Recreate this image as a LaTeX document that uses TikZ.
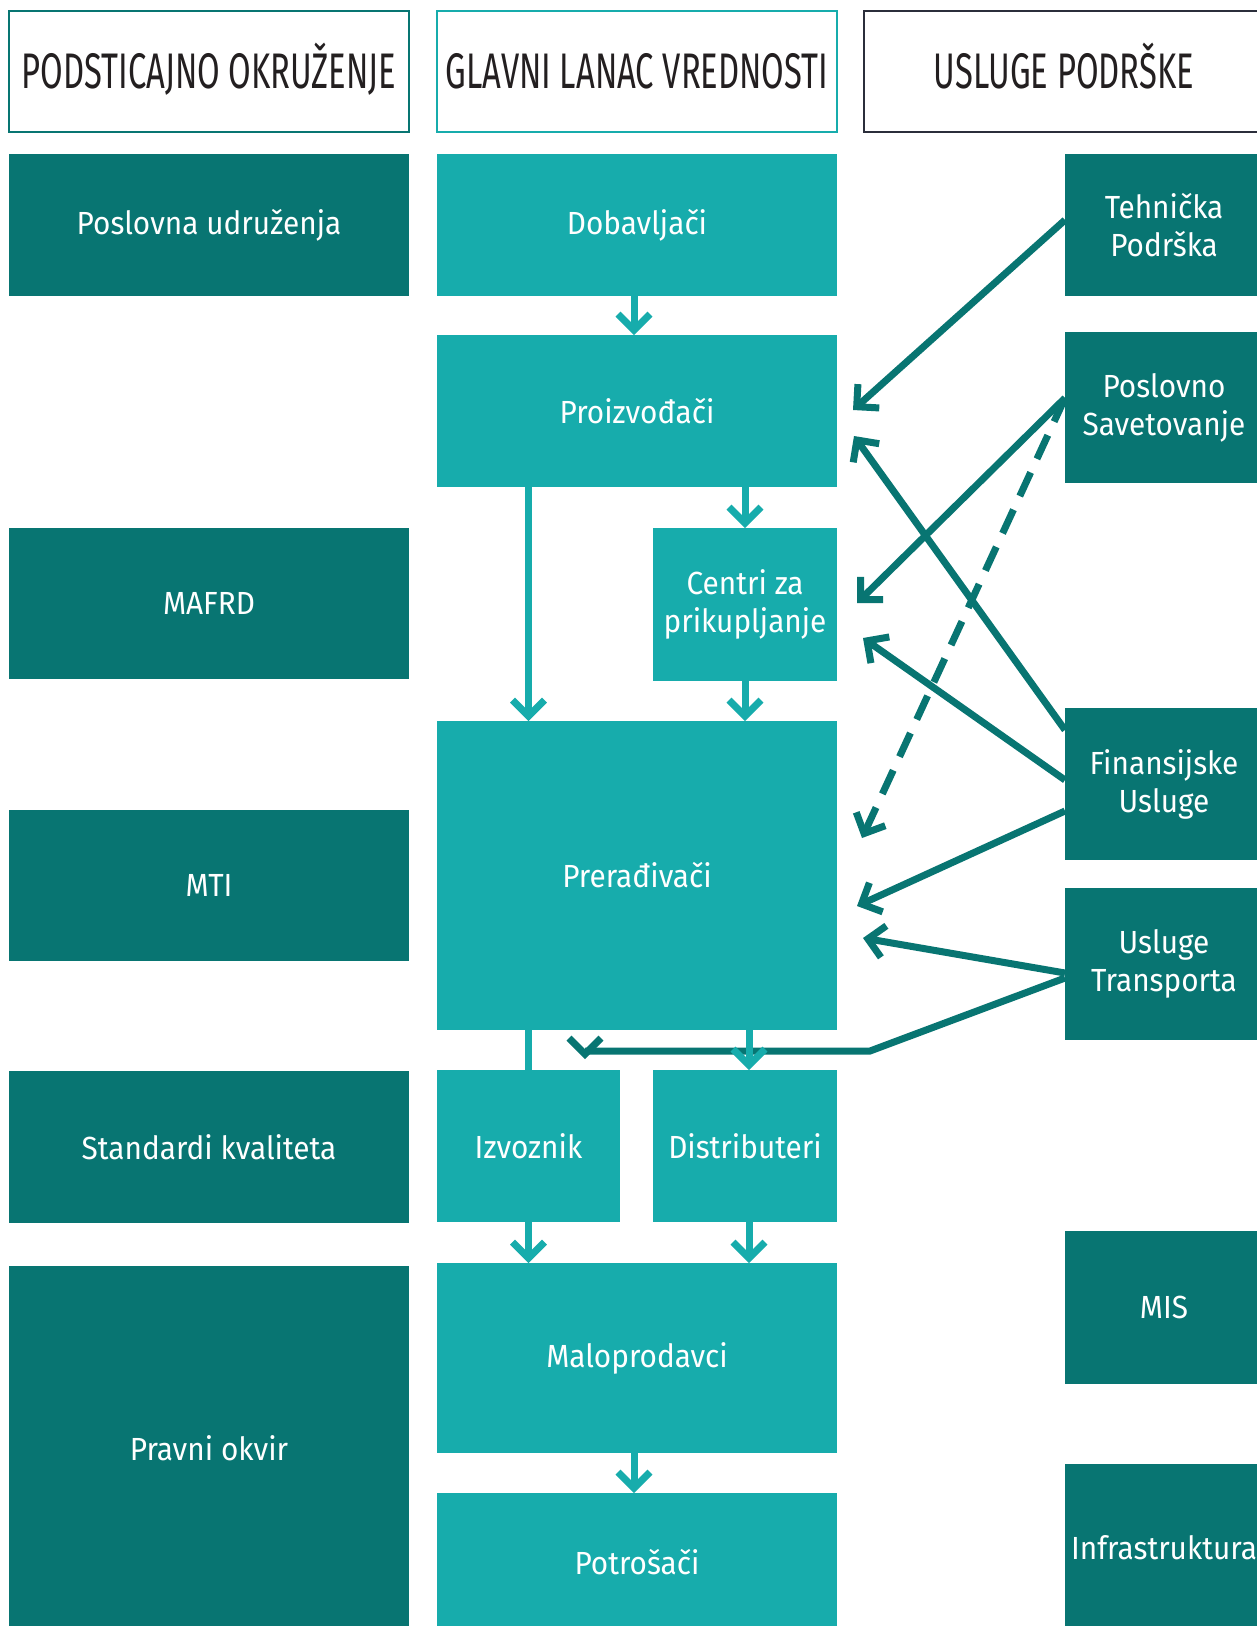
\documentclass[tikz,border=0pt]{standalone}
\usepackage{fontspec}
\setmainfont{Fira Sans}
\newfontfamily\bodyfont[FakeStretch=0.93]{Fira Sans}
\newfontfamily\headfont[FakeStretch=0.655]{Fira Sans}
\usetikzlibrary{arrows.meta}
\definecolor{dk}{HTML}{087572}
\definecolor{lt}{HTML}{17ACAC}
\definecolor{nv}{HTML}{2B2E3B}
\definecolor{ink}{HTML}{231F20}
\tikzset{
  box/.style={inner sep=0pt, outer sep=0pt, anchor=north west, align=center, text=white, font=\bodyfont\fontsize{32}{38}\selectfont},
  dbox/.style={box, fill=dk},
  lbox/.style={box, fill=lt},
  hbox/.style={inner sep=0pt, outer sep=0pt, anchor=north west, line width=2.5pt, fill=white, text=ink, font=\headfont\fontsize{50}{58}\selectfont, text height=34pt, text depth=0pt, minimum width=400pt, minimum height=121pt},
  chev/.style={-{Straight Barb[sharp,length=16pt,width=32pt]}},
  dline/.style={draw=dk, line width=7pt, chev},
  lline/.style={draw=lt, line width=7pt, chev},
  lplain/.style={draw=lt, line width=7pt},
}
\begin{document}
\begin{tikzpicture}[x=1pt,y=-1pt]
\useasboundingbox (0,0) rectangle (1257,1626);
\fill[white] (0,0) rectangle (1257,1626);
% headers
\node[hbox, draw=dk] (h1) at (9,11) {PODSTICAJNO OKRUŽENJE};
\node[hbox, draw=lt] (h2) at (437,11) {GLAVNI LANAC VREDNOSTI};
\node[hbox, draw=nv] (h3) at (864,11) {USLUGE PODRŠKE};
% left column
\node[dbox, minimum width=400pt, minimum height=142pt] (pu) at (9,154) {Poslovna udruženja};
\node[dbox, minimum width=400pt, minimum height=151pt] (mafrd) at (9,528) {MAFRD};
\node[dbox, minimum width=400pt, minimum height=151pt] (mti) at (9,810) {MTI};
\node[dbox, minimum width=400pt, minimum height=152pt] (std) at (9,1071) {Standardi kvaliteta};
\node[dbox, minimum width=400pt, minimum height=364pt] (pravni) at (9,1266) {Pravni okvir};
% middle column
\node[lbox, minimum width=400pt, minimum height=142pt] (dob) at (437,154) {Dobavljači};
\node[lbox, minimum width=400pt, minimum height=152pt] (proiz) at (437,335) {Proizvođači};
\node[lbox, minimum width=184pt, minimum height=153pt] (centri) at (653,528) {Centri za\\prikupljanje};
\node[lbox, minimum width=400pt, minimum height=309pt] (prer) at (437,721) {Prerađivači};
\node[lbox, minimum width=183pt, minimum height=152pt] (izv) at (437,1070) {Izvoznik};
\node[lbox, minimum width=184pt, minimum height=152pt] (dist) at (653,1070) {Distributeri};
\node[lbox, minimum width=400pt, minimum height=190pt] (malo) at (437,1263) {Maloprodavci};
\node[lbox, minimum width=400pt, minimum height=138pt] (potr) at (437,1493) {Potrošači};
% right column
\node[dbox, minimum width=198pt, minimum height=142pt] (teh) at (1065,154) {Tehnička\\Podrška};
\node[dbox, minimum width=198pt, minimum height=151pt] (pos) at (1065,332) {Poslovno\\Savetovanje};
\node[dbox, minimum width=198pt, minimum height=152pt] (fin) at (1065,708) {Finansijske\\Usluge};
\node[dbox, minimum width=198pt, minimum height=152pt] (tra) at (1065,888) {Usluge\\Transporta};
\node[dbox, minimum width=198pt, minimum height=153pt] (mis) at (1065,1231) {MIS};
\node[dbox, minimum width=198pt, minimum height=168pt] (inf) at (1065,1464) {Infrastruktura};
% free ends of support arrows
\coordinate (tA) at (853,410);
\coordinate (tB) at (857,603);
\coordinate (tC) at (862,838);
\coordinate (tD) at (854,436);
\coordinate (tE) at (863,638);
\coordinate (tF) at (857,906);
\coordinate (tG) at (863,938);
\coordinate (bend) at (870,1051);
\coordinate (tH) at (585,1059);
% dark support arrows
\draw[dline] ([yshift=5pt]teh.west) -- (tA);
\draw[dline] ([yshift=9.5pt]pos.west) -- (tB);
\draw[dline, dash pattern=on 26pt off 15pt] ([yshift=9.5pt]pos.west) -- (tC);
\draw[dline] ([yshift=54pt]fin.west) -- (tD);
\draw[dline] ([yshift=4pt]fin.west) -- (tE);
\draw[dline] ([yshift=-27pt]fin.west) -- (tF);
\draw[dline] ([yshift=-9pt]tra.west) -- (tG);
\draw[dline] ([yshift=-14pt]tra.west) -- (bend) -| (tH);
% light chain arrows
\draw[lline] ([xshift=-3pt]dob.south) -- ([xshift=-3pt]proiz.north);
\draw[lline] (centri.north |- proiz.south) -- (centri.north);
\draw[lline] (izv.north |- proiz.south) -- (izv.north |- prer.north);
\draw[lline] (centri.south) -- (centri.south |- prer.north);
\draw[lplain] (izv.north |- prer.south) -- (izv.north);
\draw[lline] ([xshift=4pt]dist.north |- prer.south) -- ([xshift=4pt]dist.north);
\draw[lline] (izv.south) -- (izv.south |- malo.north);
\draw[lline] ([xshift=4pt]dist.south) -- ([xshift=4pt]dist.south |- malo.north);
\draw[lline] ([xshift=-3pt]malo.south) -- ([xshift=-3pt]potr.north);
\end{tikzpicture}
\end{document}
